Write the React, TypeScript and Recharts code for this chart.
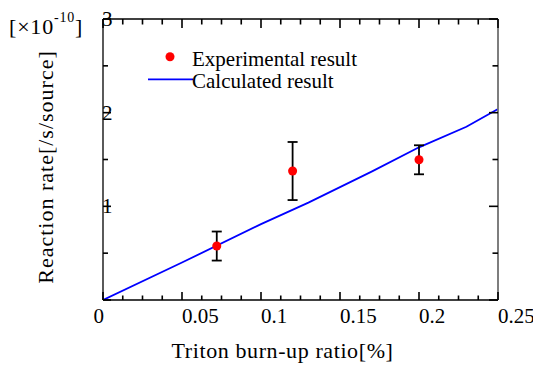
import { ComposedChart, ErrorBar, Legend, Line, Scatter, XAxis, YAxis } from 'recharts'

// burn-up ratio ticks (labels on the majors, minors every 0.0125)
const xMajorTicks = [0, 0.05, 0.1, 0.15, 0.2, 0.25]
const xTicks = [
  0, 0.0125, 0.025, 0.0375, 0.05, 0.0625, 0.075, 0.0875, 0.1, 0.1125, 0.125,
  0.1375, 0.15, 0.1625, 0.175, 0.1875, 0.2, 0.2125, 0.225, 0.2375, 0.25,
]
const yMajorTicks = [0, 1, 2, 3]
const yTicks = [0, 0.5, 1, 1.5, 2, 2.5, 3]

// experimental points with symmetric errors
const expX = [0.072, 0.12, 0.2]
const expY = [0.576, 1.377, 1.497]
const expErr = [0.155, 0.31, 0.155]

// calculated result
const calcX = [0, 0.05, 0.1, 0.13, 0.17, 0.2, 0.23, 0.25]
const calcY = [0, 0.4, 0.81, 1.04, 1.37, 1.63, 1.85, 2.04]

const expData = expX.map((x, i) => ({ x, y: expY[i], err: expErr[i] }))
const calcData = calcX.map((x, i) => ({ x, y: calcY[i] }))

const FONT = "'Liberation Serif', 'Times New Roman', Times, 'DejaVu Serif', serif"
const serif = { fontFamily: FONT }
const AXIS = { stroke: '#000', strokeWidth: 1.3 }
const TW = 1.6 // tick mark thickness

// inward tick marks, drawn as thin filled rects
const bottomTick = (props: any) => {
  const { x, y, payload } = props
  const v = payload.value
  const major = xMajorTicks.includes(v)
  const len = major ? 8 : 4.5
  return (
    <g>
      <rect x={x - TW / 2} y={y - len} width={TW} height={len} fill="#000" />
      {major && (
        <text
          x={v === 0 ? x + 1 : x}
          y={y + 23}
          textAnchor={v === 0 ? 'end' : 'start'}
          fontSize={21}
          style={serif}
          fill="#000"
        >
          {String(v)}
        </text>
      )}
    </g>
  )
}

const topTick = (props: any) => {
  const { x, y, payload } = props
  const len = xMajorTicks.includes(payload.value) ? 9 : 5.5
  return <rect x={x - TW / 2} y={y} width={TW} height={len} fill="#000" />
}

const leftTick = (props: any) => {
  const { x, y, payload } = props
  const v = payload.value
  const major = yMajorTicks.includes(v)
  const len = major ? 8 : 5
  return (
    <g>
      <rect x={x} y={y - TW / 2} width={len} height={TW} fill="#000" />
      {major && v !== 0 && (
        <text x={x - 1} y={y + 7} textAnchor="start" fontSize={21} style={serif} fill="#000">
          {String(v)}
        </text>
      )}
    </g>
  )
}

const rightTick = (props: any) => {
  const { x, y, payload } = props
  const len = yMajorTicks.includes(payload.value) ? 9 : 5.5
  return <rect x={x - len} y={y - TW / 2} width={len} height={TW} fill="#000" />
}

const yTitle = () => (
  <g style={serif} fill="#000">
    <text x={37} y={159} transform="rotate(-90 37 159)" textAnchor="middle" dominantBaseline="central" fontSize={22} letterSpacing={1}>
      Reaction rate[/s/source]
    </text>
    <text x={1} y={26} fontSize={22} letterSpacing={0.8}>
      [×10
      <tspan fontSize={14} dy={-12}>-10</tspan>
      <tspan dy={12}>]</tspan>
    </text>
  </g>
)

const xTitle = () => (
  <text x={274.5} y={349.5} textAnchor="middle" fontSize={22} style={serif} letterSpacing={0.6} fill="#000">
    Triton burn-up ratio[%]
  </text>
)

const legendContent = () => (
  <svg width={400} height={90} style={{ display: 'block' }}>
    <circle cx={162} cy={48.7} r={4.5} fill="#ff0000" />
    <line x1={140} x2={185} y1={71.3} y2={71.3} stroke="#0000ff" strokeWidth={1.8} />
    <g style={serif} fontSize={21} fill="#000">
      <text x={184} y={57.7}>Experimental result</text>
      <text x={184} y={79.5}>Calculated result</text>
    </g>
  </svg>
)

export default function App() {
  return (
    <div style={{ position: 'relative', width: 533, height: 359 }}>
      <style>{'.recharts-surface { overflow: visible; }'}</style>
      <ComposedChart width={533} height={359} margin={{ top: 10, right: 42, left: 45, bottom: 37 }}>
        <XAxis
          dataKey="x"
          type="number"
          domain={[0, 0.25]}
          allowDataOverflow
          ticks={xTicks}
          interval={0}
          height={30}
          tickSize={0}
          tickMargin={0}
          tickLine={false}
          axisLine={AXIS}
          tick={bottomTick}
          label={xTitle}
        />
        {/* mirror frame on top/right, same scales; the scatter hangs on these */}
        <XAxis
          xAxisId="top"
          dataKey="x"
          orientation="top"
          type="number"
          domain={[0, 0.25]}
          allowDataOverflow
          ticks={xTicks}
          interval={0}
          height={1}
          tickSize={0}
          tickMargin={0}
          tickLine={false}
          axisLine={AXIS}
          tick={topTick}
        />
        <YAxis
          dataKey="y"
          type="number"
          domain={[0, 3]}
          allowDataOverflow
          ticks={yTicks}
          interval={0}
          width={50}
          tickSize={0}
          tickMargin={0}
          tickLine={false}
          axisLine={AXIS}
          tick={leftTick}
          label={yTitle}
        />
        <YAxis
          yAxisId="right"
          dataKey="y"
          orientation="right"
          type="number"
          domain={[0, 3]}
          allowDataOverflow
          ticks={yTicks}
          interval={0}
          width={1}
          tickSize={0}
          tickMargin={0}
          tickLine={false}
          axisLine={{ stroke: '#707070', strokeWidth: 1.8 }}
          tick={rightTick}
        />
        <Legend
          layout="horizontal"
          verticalAlign="middle"
          align="center"
          content={legendContent}
          wrapperStyle={{ position: 'absolute', top: 0, left: 0, width: 400, height: 90 }}
        />
        <Line
          data={calcData}
          dataKey="y"
          name="Calculated result"
          type="linear"
          stroke="#0000ff"
          strokeWidth={1.8}
          dot={false}
          isAnimationActive={false}
        />
        <Scatter
          data={expData}
          xAxisId="top"
          yAxisId="right"
          dataKey="y"
          name="Experimental result"
          fill="#ff0000"
          shape={(p: any) => <circle cx={p.cx} cy={p.cy} r={4.5} fill="#ff0000" />}
          isAnimationActive={false}
        >
          <ErrorBar dataKey="err" direction="y" width={5} stroke="#000" strokeWidth={1.8} isAnimationActive={false} />
        </Scatter>
      </ComposedChart>
    </div>
  )
}
